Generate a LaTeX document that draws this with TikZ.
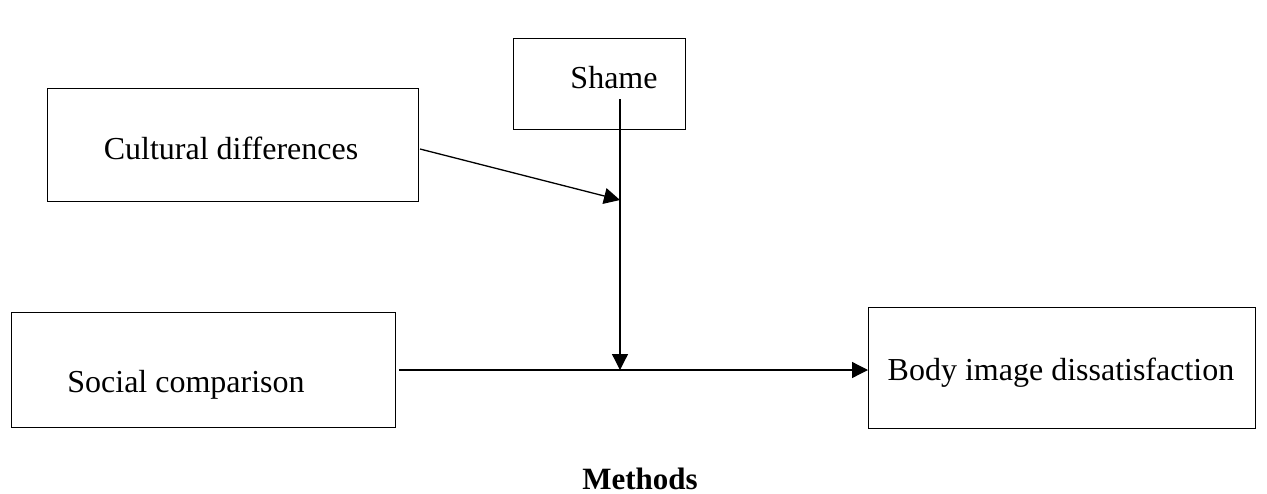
\documentclass[tikz,border=0pt]{standalone}
\usepackage{fontspec}
\setmainfont{Liberation Serif}
\usetikzlibrary{arrows.meta}
\begin{document}
\begin{tikzpicture}[x=1pt,y=-1pt,
  box/.style={draw,line width=1.3pt,inner sep=0pt,anchor=north west},
  lbl/.style={inner sep=0pt,font=\fontsize{32}{38}\selectfont},
  arr/.style={line width=1.3pt,-{Triangle[length=16pt,width=16pt]}}]
\useasboundingbox (0,0) rectangle (1267,493);
\node[box,minimum width=172pt,minimum height=91pt] (shamebox) at (513,38) {};
\node[box,minimum width=371pt,minimum height=113pt] (cultbox) at (47,88) {};
\node[box,minimum width=384pt,minimum height=115pt] (socbox) at (11,312) {};
\node[box,minimum width=387pt,minimum height=121pt] (bodybox) at (868,307) {};
\node[lbl,anchor=base] (shame) at (614,88) {Shame};
\node[lbl,anchor=base] (cult) at (231,159) {Cultural differences};
\node[lbl,anchor=base] (soc) at (186,392) {Social comparison};
\node[lbl,anchor=base] (body) at (1061,380) {Body image dissatisfaction};
\node[lbl,anchor=base,font=\fontsize{31}{37}\selectfont\bfseries] (methods) at (640,489) {Methods};
\coordinate (shamestart) at (620,99);
\coordinate (mod) at (620,370);
\coordinate (cultend) at (620,200);
\coordinate (cultstart) at (420,149);
\coordinate (socstart) at (399,370);
\draw[arr] (shamestart) -- (mod);
\draw[arr] (cultstart) -- (cultend);
\draw[arr] (socstart) -- (mod -| bodybox.west);
\end{tikzpicture}
\end{document}
